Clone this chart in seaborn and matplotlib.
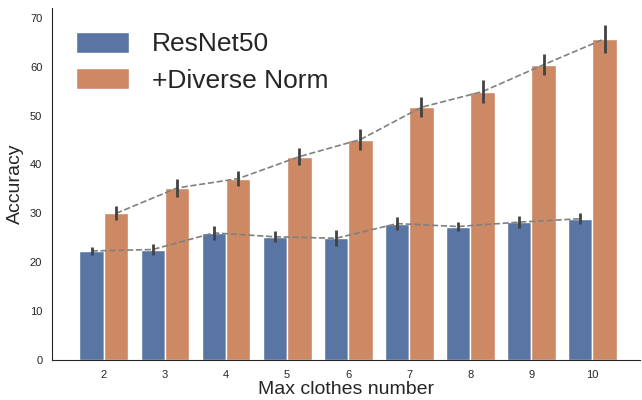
import pandas as pd
import numpy as np
import matplotlib
matplotlib.use('Agg')
import matplotlib.pyplot as plt
import seaborn as sns

clothes = [2, 3, 4, 5, 6, 7, 8, 9, 10]
resnet = [22.3, 22.6, 26.0, 25.2, 24.9, 27.9, 27.3, 28.2, 28.9]
resnet_err = [0.75, 1.1, 1.4, 1.1, 1.6, 1.3, 1.0, 1.25, 1.15]
diverse = [30.0, 35.2, 37.1, 41.6, 45.1, 51.7, 54.9, 60.4, 65.7]
diverse_err = [1.4, 1.8, 1.5, 1.75, 2.1, 2.0, 2.4, 2.1, 2.9]
methods = ['ResNet50', '+Diverse Norm']

df = pd.DataFrame({
    'clothes': clothes * 2,
    'method': [methods[0]] * len(clothes) + [methods[1]] * len(clothes),
    'acc': resnet + diverse,
})

sns.set_style('white')
plt.rcParams['font.family'] = ['Liberation Sans', 'DejaVu Sans']
fig, ax = plt.subplots(figsize=(6.42, 4), dpi=100)
sns.barplot(data=df, x='clothes', y='acc', hue='method', palette='deep',
            errorbar=None, ax=ax)

# dashed trend line + error bars on top of each series
for cont, vals, errs in zip(ax.containers, [resnet, diverse], [resnet_err, diverse_err]):
    xs = [p.get_x() + p.get_width() / 2 for p in cont.patches]
    ax.plot(xs, vals, linestyle='--', color='gray', linewidth=1.2, zorder=3)
    ax.errorbar(xs, vals, yerr=errs, fmt='none', ecolor='#424242', elinewidth=2, zorder=4)

sns.despine()
ax.set_xlim(-0.85, 8.78)
ax.set_ylim(0, 72)
ax.set_xlabel('Max clothes number', fontsize=14, labelpad=1)
ax.set_ylabel('Accuracy', fontsize=14, labelpad=4)
ax.tick_params(labelsize=8)
ax.legend(loc='upper left', fontsize=19, frameon=False, handlelength=2.0,
          handleheight=0.85, handletextpad=0.9, labelspacing=0.45,
          bbox_to_anchor=(0.0, 1.0))

plt.subplots_adjust(left=0.081, right=0.997, bottom=0.1, top=0.98)
plt.savefig('out.png', dpi=100)
